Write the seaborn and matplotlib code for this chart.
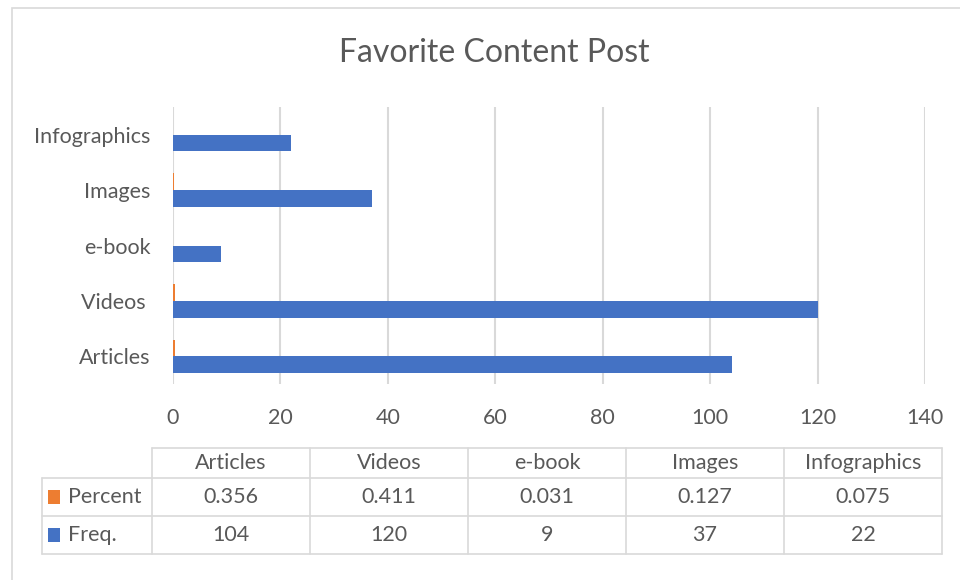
import matplotlib
matplotlib.use("Agg")
import matplotlib.pyplot as plt
import seaborn as sns
import pandas as pd
from matplotlib.lines import Line2D
from matplotlib.patches import Rectangle

# Survey data
categories = ["Articles", "Videos", "e-book", "Images", "Infographics"]
percent = [0.356, 0.411, 0.031, 0.127, 0.075]
freq = [104, 120, 9, 37, 22]
series_names = ["Percent", "Freq."]
series_colors = ["#ED7D31", "#4472C4"]
x_ticks = [0, 20, 40, 60, 80, 100, 120, 140]

TEXT = "#595959"
GRID = "#D9D9D9"
FONT = "Lato"
LABEL_SIZE = 15.5

sns.set_theme(style="white")
plt.rcParams["font.family"] = [FONT, "DejaVu Sans"]

W, H = 960, 580
fig = plt.figure(figsize=(W / 100, H / 100), dpi=100)


def fx(x):
    return x / W


def fy(y):
    return 1 - y / H


# Outer chart border
fig.patches.append(Rectangle((fx(12), fy(600)), fx(960) - fx(12) + 0.05, fy(8) - fy(600),
                             transform=fig.transFigure, fill=False, edgecolor=GRID, lw=1.2))

# Long-form table for seaborn
df = pd.DataFrame({
    "category": categories * 2,
    "series": [series_names[0]] * len(categories) + [series_names[1]] * len(categories),
    "value": percent + freq,
})

ax = fig.add_axes([fx(173), fy(384), fx(925) - fx(173), fy(107) - fy(384)])
order = categories[::-1]
sns.barplot(data=df, x="value", y="category", hue="series", order=order,
            hue_order=series_names, palette=series_colors, orient="h",
            width=0.6, ax=ax, legend=False, saturation=1, linewidth=0)

ax.set_xlim(0, 140)
ax.set_ylim(4.5, -0.5)
ax.set_xticks(x_ticks)
ax.set_xticklabels([str(t) for t in x_ticks])
ax.set_yticks(range(len(order)))
ax.set_yticklabels([c + " " if c == "Videos" else c for c in order])
ax.xaxis.grid(True, color=GRID, lw=1.5)
ax.set_axisbelow(True)
for s in ax.spines.values():
    s.set_visible(False)
ax.tick_params(axis="both", length=0, colors=TEXT, labelsize=LABEL_SIZE)
ax.tick_params(axis="x", pad=17)
ax.tick_params(axis="y", pad=16)
ax.set_xlabel("")
ax.set_ylabel("")

# Title
fig.text(fx(494), fy(53), "Favorite Content Post", ha="center", va="center",
         fontsize=23, color=TEXT)

# Data table beneath the chart
col_edges = [152, 310, 468, 626, 784, 942]
row_edges = [448, 478, 516, 554]
left_edge = 42
lines = []
lines.append(((col_edges[0], col_edges[-1]), (row_edges[0], row_edges[0])))
for y in row_edges[1:]:
    lines.append(((left_edge, col_edges[-1]), (y, y)))
lines.append(((left_edge, left_edge), (row_edges[1], row_edges[-1])))
for x in col_edges:
    lines.append(((x, x), (row_edges[0], row_edges[-1])))
for (xs, ys) in lines:
    fig.add_artist(Line2D([fx(v) for v in xs], [fy(v) for v in ys],
                          transform=fig.transFigure, color=GRID, lw=1.2))

centers = [(col_edges[i] + col_edges[i + 1]) / 2 for i in range(len(categories))]
for cx, name in zip(centers, categories):
    fig.text(fx(cx), fy((row_edges[0] + row_edges[1]) / 2), name, ha="center", va="center",
             fontsize=LABEL_SIZE, color=TEXT)

rows = [[f"{v:.3f}" for v in percent], [str(v) for v in freq]]
for r, (name, color, vals) in enumerate(zip(series_names, series_colors, rows)):
    yc = (row_edges[r + 1] + row_edges[r + 2]) / 2
    fig.patches.append(Rectangle((fx(48), fy(yc + 7)), fx(60) - fx(48), fy(yc - 7) - fy(yc + 7),
                                 transform=fig.transFigure, color=color, lw=0))
    fig.text(fx(68), fy(yc), name, ha="left", va="center", fontsize=LABEL_SIZE, color=TEXT)
    for cx, v in zip(centers, vals):
        fig.text(fx(cx), fy(yc), v, ha="center", va="center", fontsize=LABEL_SIZE, color=TEXT)

fig.savefig("out.png", dpi=100, facecolor="white")
